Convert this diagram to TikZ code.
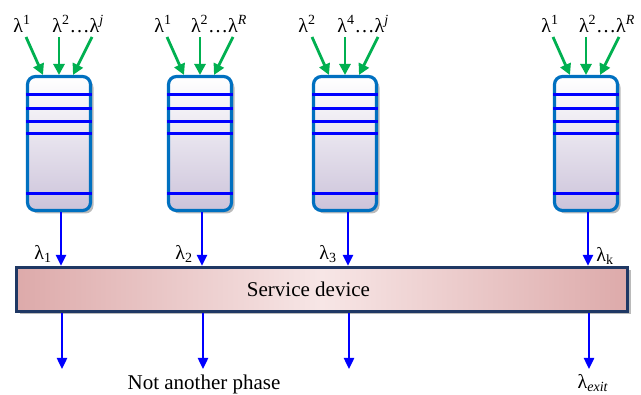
\documentclass[tikz,border=0pt]{standalone}
\usepackage{fontspec}
\setmainfont{Liberation Serif}
\usetikzlibrary{arrows.meta,shadows}
\definecolor{qborder}{HTML}{0070C0}
\definecolor{qline}{HTML}{0000FF}
\definecolor{garrow}{HTML}{00B050}
\definecolor{navy}{HTML}{1F3864}
\definecolor{lav}{HTML}{CCC3DA}
\definecolor{pinkdark}{HTML}{DDAAAA}
\definecolor{pinklight}{HTML}{F7E6E6}
\tikzset{
  queue/.style={draw=qborder, line width=3.2pt, rounded corners=8pt,
    minimum width=63pt, minimum height=134pt, inner sep=0pt,
    top color=white, bottom color=lav,
    drop shadow={shadow xshift=3pt, shadow yshift=-3pt, fill=black!45, opacity=0.6}},
  qln/.style={draw=qline, line width=3pt},
  inarrow/.style={draw=garrow, line width=2.8pt, -{Triangle[length=11pt,width=11pt]}},
  flow/.style={draw=qline, line width=2.4pt, -{Triangle[length=11pt,width=10pt]}},
  svcbox/.style={draw=navy, line width=3.4pt, minimum width=611pt, minimum height=44pt,
    left color=pinkdark, right color=pinkdark, middle color=pinklight, inner sep=0pt,
    drop shadow={shadow xshift=3pt, shadow yshift=-3pt, fill=black!45, opacity=0.6}},
  lbl/.style={inner sep=0pt, font=\fontsize{20}{24}\selectfont},
  txt/.style={inner sep=0pt, font=\fontsize{21}{25}\selectfont}
}
\begin{document}
\begin{tikzpicture}[x=1pt,y=-1pt]
\useasboundingbox (0,0) rectangle (641,395);

% service device
\node[svcbox] (svc) at (322,289.5) {};
\node[txt] (svclabel) at (308.5,289) {Service device};

% queues
\foreach \n/\c/\o in {1/59/61, 2/200/202, 3/345/348, 4/586/588} {
  \node[queue] (q\n) at (\c,143.5) {};
  \foreach \d in {20,34,47,59,119} {
    \draw[qln] ([yshift=-\d pt]q\n.north west) -- ([yshift=-\d pt]q\n.north east);
  }
  % green inputs
  \coordinate (a\n) at (\c-33,37);
  \coordinate (b\n) at (\c,37);
  \coordinate (c\n) at (\c+33,37);
  \coordinate (ae\n) at (\c-16,75);
  \coordinate (be\n) at (\c,75);
  \coordinate (ce\n) at (\c+14,75);
  \draw[inarrow] (a\n) -- (ae\n);
  \draw[inarrow] (b\n) -- (be\n);
  \draw[inarrow] (c\n) -- (ce\n);
  % flows into service device
  \coordinate (o\n) at (\o,212);
  \draw[flow] (o\n |- q\n.south) -- (o\n |- svc.north);
  % outputs
  \coordinate (x\n) at (\o+1,369);
  \draw[flow] (x\n |- svc.south) -- (x\n);
}

% input labels
\node[lbl] (l1a) at (22,24) {λ\textsuperscript{1}};
\node[lbl] (l1b) at (78,24) {λ\textsuperscript{2}…λ\textsuperscript{\textit{j}}};
\node[lbl] (l2a) at (163,24) {λ\textsuperscript{1}};
\node[lbl] (l2b) at (219,24) {λ\textsuperscript{2}…λ\textsuperscript{\textit{R}}};
\node[lbl] (l3a) at (307,24) {λ\textsuperscript{2}};
\node[lbl] (l3b) at (363,24) {λ\textsuperscript{4}…λ\textsuperscript{\textit{j}}};
\node[lbl] (l4a) at (550,24) {λ\textsuperscript{1}};
\node[lbl] (l4b) at (607,24) {λ\textsuperscript{2}…λ\textsuperscript{\textit{R}}};

% flow labels
\node[lbl] (f1) at (43,254) {λ\textsubscript{1}};
\node[lbl] (f2) at (184,254) {λ\textsubscript{2}};
\node[lbl] (f3) at (328,254) {λ\textsubscript{3}};
\node[lbl] (f4) at (605,256) {λ\textsubscript{k}};

% bottom labels
\node[txt] (nap) at (204,384) {Not another phase};
\node[lbl] (lex) at (593,383) {λ\textsubscript{\textit{exit}}};
\end{tikzpicture}
\end{document}
